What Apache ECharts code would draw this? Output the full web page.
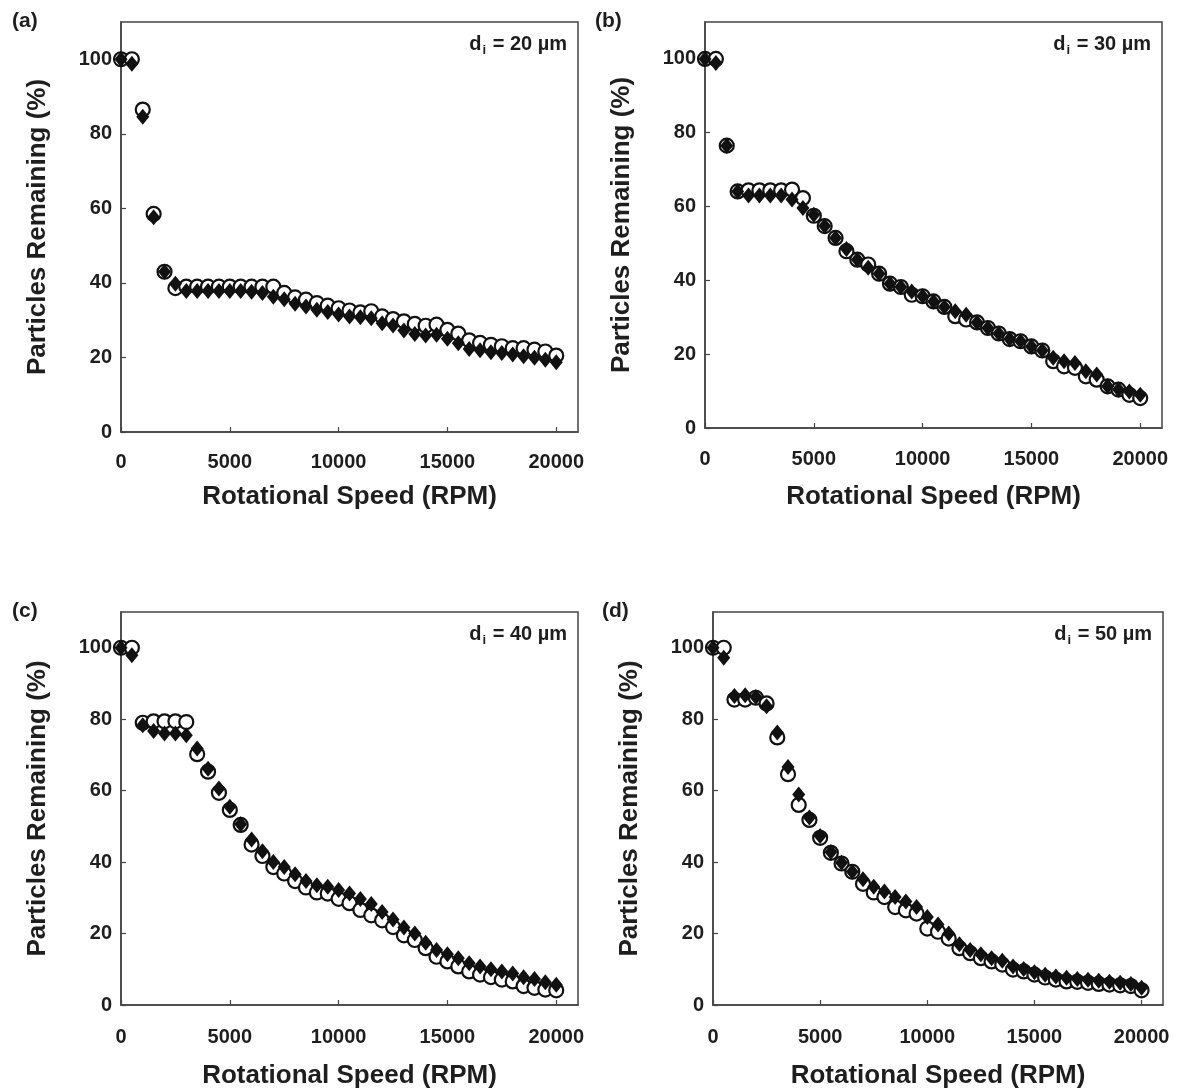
<!DOCTYPE html>
<html>
<head>
<meta charset="utf-8">
<script src="https://cdn.jsdelivr.net/npm/echarts@6/dist/echarts.min.js"></script>
<style>
  html, body { margin: 0; padding: 0; background: #fff; }
  #chart { width: 1181px; height: 1090px; }
</style>
</head>
<body>
<div id="chart"></div>
<script>
// rotational speed steps (RPM)
const rpm = [0, 500, 1000, 1500, 2000, 2500, 3000, 3500, 4000, 4500,
  5000, 5500, 6000, 6500, 7000, 7500, 8000, 8500, 9000, 9500,
  10000, 10500, 11000, 11500, 12000, 12500, 13000, 13500, 14000, 14500,
  15000, 15500, 16000, 16500, 17000, 17500, 18000, 18500, 19000, 19500, 20000]

// d_i = 20 um
const aOpen = [100, 100, 86.5, 58.5, 43, 38.6, 39, 39, 39, 39, 39, 39, 39, 39, 39, 37.3, 36.1, 35.5, 34.6, 33.9,
  33.2, 32.6, 32.1, 32.4, 31.0, 30.3, 29.7, 29.0, 28.5, 28.8, 27.4, 26.4, 24.6, 23.9, 23.4, 23.0, 22.5, 22.5, 22.1, 21.6, 20.5]
const aDia = [100, 98.8, 84.6, 57.6, 43, 39.8, 37.8, 37.8, 37.8, 37.8, 37.8, 37.8, 37.6, 37.3, 36.3, 35.6, 34.4, 33.7, 32.8, 32.2,
  31.5, 31.0, 30.8, 30.5, 29.2, 28.6, 27.2, 26.3, 25.9, 26.1, 25.0, 23.8, 22.3, 21.9, 21.4, 21.2, 20.8, 20.3, 19.9, 19.4, 18.7]

// d_i = 30 um
const bOpen = [100, 100, 76.5, 64.1, 64.4, 64.4, 64.4, 64.4, 64.6, 62.3, 57.5, 54.7, 51.5, 47.9, 45.6, 44.3, 41.8, 39.1, 38.2, 36.1,
  35.7, 34.3, 32.8, 30.3, 29.4, 28.6, 27.1, 25.6, 24.1, 23.5, 22.1, 21.0, 18.1, 16.7, 16.3, 14.0, 13.1, 11.3, 10.4, 9.0, 8.1]
const bDia = [100, 98.9, 76.5, 64.1, 63, 63, 63, 63, 61.9, 59.6, 57.8, 54.7, 51.5, 48.5, 45.6, 43.4, 41.8, 39.1, 38.2, 37.0,
  35.7, 34.3, 32.8, 31.6, 30.7, 28.6, 27.1, 25.6, 24.1, 23.5, 22.1, 21.0, 19.0, 18.1, 17.6, 15.4, 14.5, 11.3, 10.4, 9.9, 9.0]

// d_i = 40 um
const cOpen = [100, 100, 79, 79.4, 79.4, 79.4, 79.2, 70.2, 65.3, 59.4, 54.6, 50.4, 44.9, 41.7, 38.6, 36.8, 34.7, 32.9, 31.5, 31.2,
  29.7, 28.5, 26.6, 25.1, 23.7, 21.8, 19.5, 18.2, 15.9, 13.5, 12.2, 10.8, 9.4, 8.5, 7.8, 7.1, 6.6, 5.3, 4.8, 4.3, 4.1]
const cDia = [100, 97.9, 78.3, 76.7, 76.0, 76.0, 75.5, 71.8, 66.1, 60.6, 55.5, 50.6, 46.3, 43.0, 40.0, 38.6, 36.6, 34.7, 33.5, 33.1,
  32.2, 31.2, 29.7, 28.3, 26.0, 23.9, 21.7, 20.0, 17.4, 15.4, 14.2, 13.1, 11.7, 10.8, 10.0, 9.4, 8.8, 7.8, 7.3, 6.4, 5.7]

// d_i = 50 um
const dOpen = [100, 100, 85.5, 85.5, 86, 84.4, 74.9, 64.6, 56.0, 51.8, 46.8, 42.6, 39.6, 37.3, 33.9, 31.5, 30.2, 27.4, 26.5, 25.6,
  21.4, 20.5, 18.6, 15.9, 14.5, 13.1, 12.2, 11.3, 9.9, 9.4, 8.5, 7.7, 7.1, 6.6, 6.5, 6.2, 5.9, 5.7, 5.5, 5.3, 4.1]
const dDia = [100, 97.2, 86.5, 86.7, 86.2, 83.6, 76.3, 66.6, 58.9, 52.5, 47.3, 42.8, 39.8, 37.3, 35.2, 33.1, 31.8, 30.2, 29.0, 27.4,
  24.6, 22.5, 20.0, 17.0, 15.4, 14.2, 13.1, 12.4, 10.8, 10.1, 9.2, 8.5, 8.0, 7.6, 7.3, 7.1, 6.8, 6.5, 6.2, 5.9, 4.8]

const xTitle = 'Rotational Speed (RPM)'
const yTitle = 'Particles Remaining (%)'

const panels = [
  { tag: '(a)', size: '20', open: aOpen, dia: aDia, grid: { left: 121, top: 22, width: 457, height: 410 }, tagPos: [7, 6], xGap: 52, xMargin: 20 },
  { tag: '(b)', size: '30', open: bOpen, dia: bDia, grid: { left: 705, top: 22, width: 457, height: 406 }, tagPos: [590, 6], xGap: 56, xMargin: 21 },
  { tag: '(c)', size: '40', open: cOpen, dia: cDia, grid: { left: 121, top: 612, width: 457, height: 396 }, tagPos: [7, 596], xGap: 58, xMargin: 22 },
  { tag: '(d)', size: '50', open: dOpen, dia: dDia, grid: { left: 713, top: 612, width: 450, height: 396 }, tagPos: [597, 596], xGap: 58, xMargin: 22 }
]

const FONT = 'Liberation Sans'
const INK = '#1e1e1e'
const LINE = '#444'

function pairs(vals) {
  return rpm.map((x, i) => [x, vals[i]])
}

const grid = []
const xAxis = []
const yAxis = []
const series = []
const title = []

panels.forEach((p, i) => {
  grid.push({
    ...p.grid,
    show: true,
    borderColor: LINE,
    borderWidth: 1.5,
    containLabel: false
  })

  xAxis.push({
    type: 'value',
    gridIndex: i,
    min: 0,
    max: 21000,
    interval: 5000,
    name: xTitle,
    nameLocation: 'middle',
    nameGap: p.xGap,
    nameTextStyle: { fontFamily: FONT, fontSize: 26, fontWeight: 'bold', color: INK },
    axisLine: { show: true, onZero: false, lineStyle: { color: LINE, width: 1.5 } },
    axisTick: { show: true, inside: true, length: 5, lineStyle: { color: LINE, width: 1.2 } },
    axisLabel: {
      fontFamily: FONT, fontSize: 20, fontWeight: 'bold', color: INK, margin: p.xMargin, showMaxLabel: false,
      formatter: v => String(v)
    },
    splitLine: { show: false }
  })

  yAxis.push({
    type: 'value',
    gridIndex: i,
    min: 0,
    max: 110,
    interval: 20,
    name: yTitle,
    nameLocation: 'middle',
    nameGap: 70,
    nameRotate: 90,
    nameTextStyle: { fontFamily: FONT, fontSize: 26, fontWeight: 'bold', color: INK },
    axisLine: { show: true, onZero: false, lineStyle: { color: LINE, width: 1.5 } },
    axisTick: { show: true, inside: true, length: 5, lineStyle: { color: LINE, width: 1.2 } },
    axisLabel: { fontFamily: FONT, fontSize: 20, fontWeight: 'bold', color: INK, margin: 9, showMaxLabel: false },
    splitLine: { show: false }
  })

  series.push({
    type: 'scatter',
    xAxisIndex: i,
    yAxisIndex: i,
    data: pairs(p.open),
    symbol: 'circle',
    symbolSize: 14,
    z: 2,
    itemStyle: { color: '#fff', borderColor: '#111', borderWidth: 2.2, opacity: 1 }
  })
  series.push({
    type: 'scatter',
    xAxisIndex: i,
    yAxisIndex: i,
    data: pairs(p.dia),
    symbol: 'diamond',
    symbolSize: [13, 16],
    z: 3,
    itemStyle: { color: '#111', opacity: 1 }
  })

  title.push({
    text: p.tag,
    left: p.tagPos[0],
    top: p.tagPos[1],
    textStyle: { fontFamily: FONT, fontSize: 21, fontWeight: 'bold', color: INK }
  })
  title.push({
    text: '{m|d}{s|i}{m| = ' + p.size + ' µm}',
    right: 1181 - (p.grid.left + p.grid.width) + 6,
    top: p.grid.top + 4,
    textStyle: {
      rich: {
        m: { fontFamily: FONT, fontSize: 20, fontWeight: 'bold', color: INK, lineHeight: 26 },
        s: { fontFamily: FONT, fontSize: 13, fontWeight: 'bold', color: INK, lineHeight: 26, padding: [12, 1, 0, 1] }
      }
    }
  })
})

const chart = echarts.init(document.getElementById('chart'), null, { renderer: 'canvas' })
chart.setOption({
  animation: false,
  backgroundColor: '#fff',
  title,
  grid,
  xAxis,
  yAxis,
  series
})
</script>
</body>
</html>
